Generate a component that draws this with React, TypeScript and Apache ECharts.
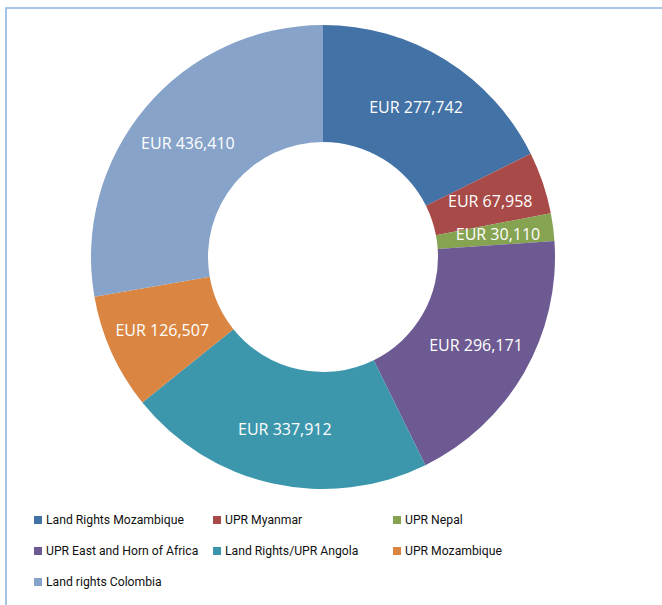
import React, { useEffect, useRef } from "react";
import * as echarts from "echarts";

const categories = [
  "Land Rights Mozambique",
  "UPR Myanmar",
  "UPR Nepal",
  "UPR East and Horn of Africa",
  "Land Rights/UPR Angola",
  "UPR Mozambique",
  "Land rights Colombia",
];
const values = [277742, 67958, 30110, 296171, 337912, 126507, 436410];
const colors = ["#4272a6", "#a84a48", "#86a352", "#6d5a92", "#3c97ad", "#da8642", "#87a3c9"];

const legendCol1 = [categories[0], categories[3], categories[6]];
const legendCol2 = [categories[1], categories[4]];
const legendCol3 = [categories[2], categories[5]];

const FONT = "'Open Sans', 'DejaVu Sans', sans-serif";
const LEGEND_FONT = "Roboto, 'Liberation Sans', sans-serif";

export default function App() {
  const ref = useRef<HTMLDivElement>(null);
  useEffect(() => {
    const chart = echarts.init(ref.current!, undefined, { renderer: "svg" });
    const fmt = (v: number) => "EUR " + v.toLocaleString("en-US");
    const legendBase = {
      orient: "vertical" as const,
      top: 514,
      padding: 0,
      itemWidth: 8,
      itemHeight: 8,
      itemGap: 19,
      icon: "rect",
      selectedMode: false,
      textStyle: { fontFamily: LEGEND_FONT, fontSize: 12.2, color: "#111", padding: [0, 0, 0, -1] },
    };
    chart.setOption({
      animation: false,
      color: colors,
      graphic: [
        {
          type: "rect",
          shape: { x: 6, y: 8, width: 800, height: 800 },
          style: { fill: "none", stroke: "#8db4e2", lineWidth: 1.6 },
          silent: true,
        },
      ],
      legend: [
        { ...legendBase, left: 34, data: legendCol1 },
        { ...legendBase, left: 213, data: legendCol2 },
        { ...legendBase, left: 393, data: legendCol3 },
      ],
      series: [
        {
          type: "pie",
          center: [323, 257],
          radius: [115, 232],
          startAngle: 90,
          clockwise: true,
          avoidLabelOverlap: false,
          label: {
            show: true,
            position: "inside",
            color: "#ffffff",
            fontFamily: FONT,
            fontSize: 16,
            formatter: (p: any) => fmt(p.value),
          },
          labelLine: { show: false },
          itemStyle: { borderWidth: 0 },
          emphasis: { disabled: true },
          data: categories.map((c, i) => ({ name: c, value: values[i] })),
        },
      ],
    });
    return () => chart.dispose();
  }, []);
  return (
    <div
      ref={ref}
      style={{ position: "absolute", left: 0, top: 0, width: 662, height: 605, background: "#fff" }}
    />
  );
}
